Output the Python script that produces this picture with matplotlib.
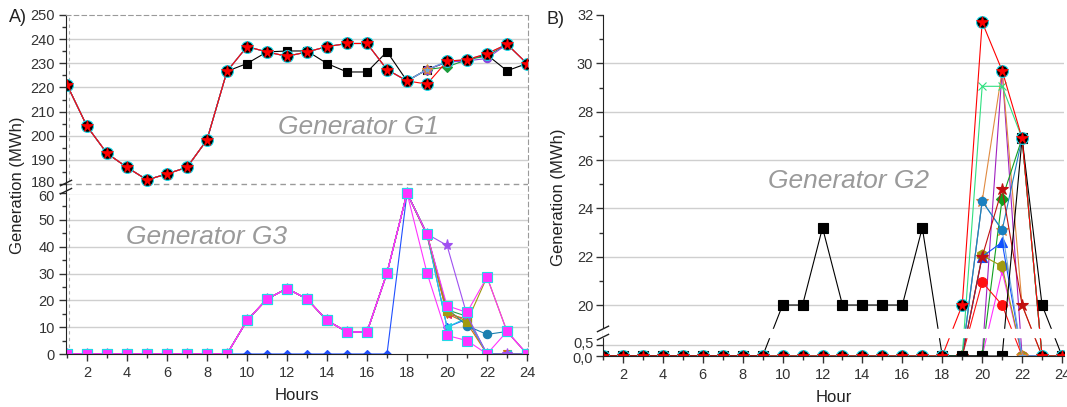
import numpy as np
import matplotlib
matplotlib.use('Agg')
import matplotlib.pyplot as plt
import matplotlib.transforms as mtransforms

plt.rcParams['font.family'] = ['Liberation Sans', 'DejaVu Sans']

hours = np.arange(1, 25)

# ---- Generator G1 (panel A, upper part)
g1_main = [221.1, 203.9, 192.7, 186.9, 181.7, 184.2, 186.9, 198.3, 226.7, 236.9, 234.7, 232.9,
           234.7, 236.9, 238.2, 238.2, 227.4, 222.7, 221.4, 230.9, 231.5, 234.0, 237.9, 229.9]
g1_black = [221.1, 203.9, 192.7, 186.9, 181.7, 184.2, 186.9, 198.3, 226.7, 229.9, 234.7, 235.1,
            235.1, 229.9, 226.4, 226.4, 234.8, 222.7, 227.4, 230.5, 231.5, 233.5, 226.9, 229.9]
g1_green = [221.1, 203.9, 192.7, 186.9, 181.7, 184.2, 186.9, 198.3, 226.7, 236.9, 234.7, 232.9,
            234.7, 236.9, 238.2, 238.2, 227.4, 222.7, 227.4, 228.5, 231.5, 233.0, 237.9, 229.9]
g1_purple = [221.1, 203.9, 192.7, 186.9, 181.7, 184.2, 186.9, 198.3, 226.7, 236.9, 234.7, 232.9,
             234.7, 236.9, 238.2, 238.2, 227.4, 222.7, 227.4, 230.5, 231.0, 232.0, 237.9, 229.9]
g1_steel = [221.1, 203.9, 192.7, 186.9, 181.7, 184.2, 186.9, 198.3, 226.7, 236.9, 234.7, 232.9,
            234.7, 236.9, 238.2, 238.2, 227.4, 222.7, 227.4, 230.9, 231.5, 234.0, 237.9, 229.9]

# ---- Generator G3 (panel A, lower part)
g3_pink = [0, 0, 0, 0, 0, 0, 0, 0, 0, 12.5, 20.5, 24.4, 20.5, 12.5, 8.2, 8.2, 30.2, 60.3,
           30.2, 6.9, 5.0, 0, 8.4, 0]
g3_pink2 = [0, 0, 0, 0, 0, 0, 0, 0, 0, 12.5, 20.5, 24.4, 20.5, 12.5, 8.2, 8.2, 30.2, 60.3,
            44.7, 18.0, 15.5, 28.7, 8.4, 0]
g3_blue = [0, 0, 0, 0, 0, 0, 0, 0, 0, 0, 0, 0, 0, 0, 0, 0, 0, 60.3,
           44.7, 10.0, 13.0, 0, 0, 0]
g3_purple = [0, 0, 0, 0, 0, 0, 0, 0, 0, 12.5, 20.5, 24.4, 20.5, 12.5, 8.2, 8.2, 30.2, 60.3,
             44.7, 40.5, 14.5, 0, 0, 0]
g3_olive = [0, 0, 0, 0, 0, 0, 0, 0, 0, 12.5, 20.5, 24.4, 20.5, 12.5, 8.2, 8.2, 30.2, 60.3,
            44.7, 16.0, 12.0, 28.7, 8.4, 0]
g3_teal = [0, 0, 0, 0, 0, 0, 0, 0, 0, 12.5, 20.5, 24.4, 20.5, 12.5, 8.2, 8.2, 30.2, 60.3,
           44.7, 17.0, 10.5, 7.3, 8.4, 0]
g3_cyan = [0, 0, 0, 0, 0, 0, 0, 0, 0, 12.5, 20.5, 24.4, 20.5, 12.5, 8.2, 8.2, 30.2, 60.3,
           44.7, 10.0, 13.5, 0, 0, 0]
g3_orange = [0, 0, 0, 0, 0, 0, 0, 0, 0, 12.5, 20.5, 24.4, 20.5, 12.5, 8.2, 8.2, 30.2, 60.3,
             44.7, 15.0, 11.5, 0, 0, 0]
g3_green = [0, 0, 0, 0, 0, 0, 0, 0, 0, 12.5, 20.5, 24.4, 20.5, 12.5, 8.2, 8.2, 30.2, 60.3,
            44.7, 16.5, 14.0, 0, 0, 0]
g3_crimson = [0, 0, 0, 0, 0, 0, 0, 0, 0, 12.5, 20.5, 24.4, 20.5, 12.5, 8.2, 8.2, 30.2, 60.3,
              44.1, 15.0, 13.0, 0, 0, 0]

# ---- Generator G2 (panel B)
z18 = [0] * 18
g2_black = [0, 0, 0, 0, 0, 0, 0, 0, 0, 20, 20, 23.2, 20, 20, 20, 20, 23.2, 0,
            0, 0, 0, 26.9, 20, 0]
g2_main = z18 + [20, 31.7, 29.7, 26.9, 0, 0]
g2_greenx = z18 + [0, 29.05, 29.05, 26.9, 0, 0]
g2_orange = z18 + [0, 24.3, 29.7, 20.0, 0, 0]
g2_violet = z18 + [0, 0, 29.7, 0, 0, 0]
g2_magenta = z18 + [0, 0, 21.4, 0, 0, 0]
g2_teal = z18 + [0, 24.3, 23.1, 26.9, 0, 0]
g2_steel = z18 + [0, 24.3, 23.1, 0, 0, 0]
g2_blue = z18 + [0, 22.0, 22.6, 0, 0, 0]
g2_olive = z18 + [0, 22.05, 21.6, 0, 0, 0]
g2_redc = z18 + [0, 20.95, 20.0, 0, 0, 0]
g2_darkred = z18 + [0, 22.0, 24.8, 20.0, 0, 0]
g2_greend = z18 + [0, 0, 24.4, 26.9, 0, 0]


def piecewise(xs, ys):
    xs = np.asarray(xs, float)
    ys = np.asarray(ys, float)
    s0 = (ys[1] - ys[0]) / (xs[1] - xs[0])
    s1 = (ys[-1] - ys[-2]) / (xs[-1] - xs[-2])

    def f(v):
        v = np.asarray(v, float)
        out = np.interp(v, xs, ys)
        out = np.where(v < xs[0], ys[0] + (v - xs[0]) * s0, out)
        out = np.where(v > xs[-1], ys[-1] + (v - xs[-1]) * s1, out)
        return out
    return f


def series(ax, y, color, marker, ms=6, mec=None, lw=0.8):
    ax.plot(hours, y, color=color, lw=lw, marker=marker, ms=ms,
            mfc=color, mec=mec if mec else color, mew=0.8)


def main_star(ax, y, lw=0.8):
    ax.plot(hours, y, color='red', lw=lw)
    ax.plot(hours, y, 'o', ms=8.5, mfc='black', mec='#1ad8e8', mew=0.8)
    ax.plot(hours, y, '*', ms=8.5, mfc='red', mec='red', mew=0.5)


def break_marks(ax, yfrac, h=0.012):
    kw = dict(transform=ax.transAxes, color='#222222', lw=1.0, clip_on=False, zorder=20)
    for dy in (-h, h):
        ax.plot([-0.012, 0.012], [yfrac + dy - 0.008, yfrac + dy + 0.008], **kw)


def nudge(ax, text, dy_pt):
    # shift a y tick label a little so neighbouring labels near the break don't collide
    off = mtransforms.ScaledTranslation(0, dy_pt / 72, fig.dpi_scale_trans)
    for lab in ax.get_yticklabels():
        if lab.get_text() == text:
            lab.set_transform(lab.get_transform() + off)


grid_c = '#cfcfcf'
txt_c = '#9a9a9a'
tick_c = '#333333'

fig = plt.figure(figsize=(10.67, 4.07), dpi=100)

# ================= Panel A
axA = fig.add_axes([66 / 1067, 1 - 354 / 407, (528 - 66) / 1067, (354 - 15) / 407])
fA = piecewise([0, 60, 180, 250], [0, 161, 170, 339])
iA = piecewise([0, 161, 170, 339], [0, 60, 180, 250])
axA.set_yscale('function', functions=(fA, iA))
axA.set_ylim(0, 250)
axA.set_xlim(0.95, 24.05)

for v in [10, 20, 30, 40, 50, 60, 190, 200, 210, 220, 230, 240]:
    axA.axhline(v, color=grid_c, lw=1.0, zorder=0)
axA.axhspan(61, 179.5, color='white', zorder=1)
axA.axhline(180, color='#9a9a9a', lw=1.0, ls=(0, (4, 3)), zorder=1)
axA.axvline(1.1, color='#b0b0b0', lw=0.8, ls=(0, (3, 3)), zorder=0)

# G1
series(axA, g1_black, 'black', 's', ms=6)
series(axA, g1_green, '#1a9a3a', 'D', ms=5)
series(axA, g1_purple, '#8844dd', 'o', ms=6)
series(axA, g1_steel, '#6fa8dc', '*', ms=8, mec='#e08030')
main_star(axA, g1_main)

# G3
series(axA, g3_blue, '#1f4fff', 'D', ms=4.5)
series(axA, g3_crimson, '#e0306a', '<', ms=6)
series(axA, g3_green, '#20a050', '^', ms=6)
series(axA, g3_orange, '#d07010', 'v', ms=6)
series(axA, g3_cyan, '#22d0e0', '<', ms=6)
series(axA, g3_teal, '#1a80b0', 'o', ms=6)
series(axA, g3_olive, '#a09a10', 's', ms=6)
series(axA, g3_purple, '#a050f0', '*', ms=8)
series(axA, g3_pink2, '#ff33ff', 's', ms=6.5, mec='#22d8e8')
series(axA, g3_pink, '#ff33ff', 's', ms=6.5, mec='#22d8e8')

axA.text(15.6, 203.5, 'Generator G1', fontsize=19, style='italic', color=txt_c,
         ha='center', va='center')
axA.text(8.0, 43.5, 'Generator G3', fontsize=19, style='italic', color=txt_c,
         ha='center', va='center')

axA.set_yticks([0, 10, 20, 30, 40, 50, 60, 180, 190, 200, 210, 220, 230, 240, 250])
axA.set_yticks([5, 15, 25, 35, 45, 55, 185, 195, 205, 215, 225, 235, 245], minor=True)
axA.set_xticks(range(2, 25, 2))
axA.set_xticks(range(1, 25, 2), minor=True)
axA.tick_params(labelsize=10.5, colors=tick_c, direction='out', length=5, width=1)
axA.tick_params(which='minor', direction='out', length=3, width=1, colors=tick_c)
axA.tick_params(axis='y', which='major', pad=3)
for s in ['top', 'right']:
    axA.spines[s].set_linestyle((0, (4, 3)))
    axA.spines[s].set_color('#9a9a9a')
for s in ['left', 'bottom']:
    axA.spines[s].set_color('#222222')
axA.set_xlabel('Hours', fontsize=12, color='#222222', labelpad=6)
break_marks(axA, 172 / 339 - 0.015)

# ================= Panel B
axB = fig.add_axes([603 / 1067, 1 - 356 / 407, (1064 - 603) / 1067, (356 - 15) / 407])
fB = piecewise([0, 0.86, 19, 32], [0, 19, 26.8, 341])
iB = piecewise([0, 19, 26.8, 341], [0, 0.86, 19, 32])
axB.set_yscale('function', functions=(fB, iB))
axB.set_ylim(0, 32)
axB.set_xlim(1, 24.1)

for v in [0.5, 20, 22, 24, 26, 28, 30]:
    axB.axhline(v, color=grid_c, lw=1.0, zorder=0)

series(axB, g2_violet, '#a020c0', 's', ms=5)
series(axB, g2_magenta, '#ff30ff', 'v', ms=6)
series(axB, g2_orange, '#e08a40', 'h', ms=4)
series(axB, g2_greend, '#10a020', 'D', ms=6)
series(axB, g2_redc, '#ff1010', 'o', ms=7)
series(axB, g2_olive, '#a09a10', 'h', ms=8)
series(axB, g2_blue, '#1050ff', '^', ms=7)
series(axB, g2_steel, '#6fa8dc', '*', ms=9, mec='#e08030')
series(axB, g2_teal, '#1a80c0', 'o', ms=6)
series(axB, g2_darkred, '#c01010', '*', ms=9)
series(axB, g2_greenx, '#30e080', 'x', ms=6)
series(axB, g2_black, 'black', 's', ms=6.5)
main_star(axB, g2_main)

axB.axhspan(0.9, 18.95, color='white', zorder=10)

axB.text(13.3, 25.15, 'Generator G2', fontsize=19, style='italic', color=txt_c,
         ha='center', va='center')

axB.set_yticks([0, 0.5, 20, 22, 24, 26, 28, 30, 32])
axB.set_yticklabels(['0,0', '0,5', '20', '22', '24', '26', '28', '30', '32'])
axB.set_yticks([21, 23, 25, 27, 29, 31], minor=True)
axB.set_xticks(range(2, 25, 2))
axB.set_xticks(range(1, 25, 2), minor=True)
axB.tick_params(labelsize=10.5, colors=tick_c, direction='out', length=5, width=1)
axB.tick_params(which='minor', direction='out', length=3, width=1, colors=tick_c)
axB.tick_params(axis='y', which='major', pad=2)
for s in ['top', 'right']:
    axB.spines[s].set_visible(False)
for s in ['left', 'bottom']:
    axB.spines[s].set_color('#222222')
axB.set_xlabel('Hour', fontsize=12, color='#222222', labelpad=6)
break_marks(axB, 23 / 341)

fig.canvas.draw()
nudge(axA, '180', 1.5)
nudge(axA, '60', -1.5)
nudge(axB, '0,5', 1.5)
nudge(axB, '0,0', -1.0)

# labels
fig.text(18 / 1067, 1 - 185 / 407, 'Generation (MWh)', rotation=90, fontsize=12,
         color='#222222', ha='center', va='center')
fig.text(559 / 1067, 1 - 197 / 407, 'Generation (MWh)', rotation=90, fontsize=12,
         color='#222222', ha='center', va='center')
fig.text(18 / 1067, 1 - 18 / 407, 'A)', fontsize=13, color='#222222', ha='center', va='center')
fig.text(555 / 1067, 1 - 20 / 407, 'B)', fontsize=13, color='#222222', ha='center', va='center')

fig.savefig('out.png', dpi=100)
